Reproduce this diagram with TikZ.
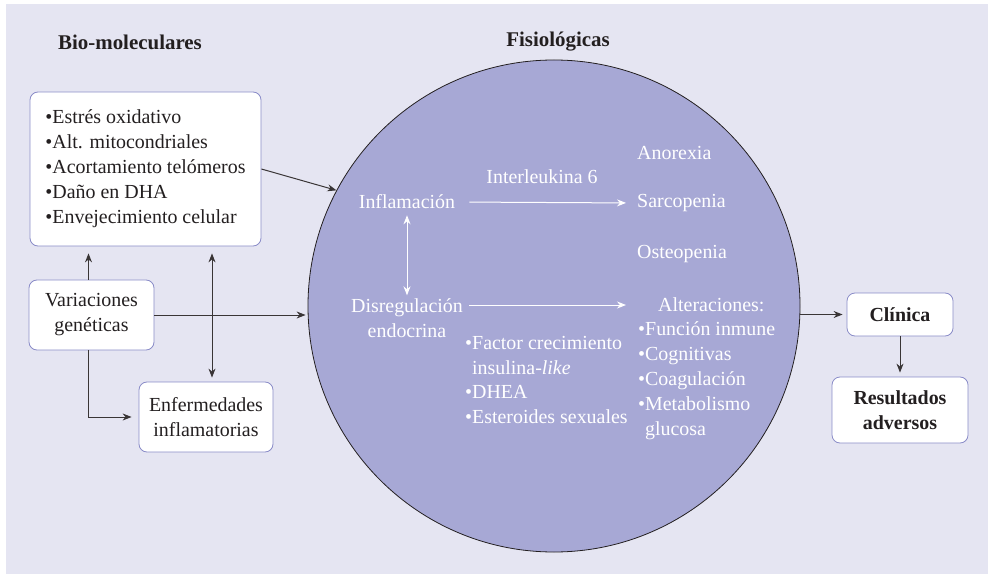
\documentclass[tikz,border=0pt]{standalone}
\usepackage{fontspec}
\setmainfont{Liberation Serif}
\usetikzlibrary{arrows.meta,positioning}
\definecolor{fondo}{HTML}{E5E5F2}
\definecolor{disco}{HTML}{A7A8D5}
\definecolor{borde}{HTML}{8A8CC8}
\definecolor{tinta}{HTML}{231F20}
\begin{document}
\begin{tikzpicture}[x=1bp,y=-1bp,>={Stealth[length=9bp,width=7bp]},
	caja/.style={draw=borde, fill=white, rounded corners=8bp, line width=0.8bp, inner sep=0pt, align=center, text=tinta, font=\fontsize{20}{25}\selectfont},
	blanco/.style={text=white, inner sep=0pt, font=\fontsize{20}{25}\selectfont},
	titulo/.style={text=tinta, inner sep=0pt, font=\bfseries\fontsize{21}{25}\selectfont},
	flecha/.style={->, draw=tinta!90, line width=1bp},
	flechab/.style={->, draw=white, line width=1bp}]
			\useasboundingbox (0,0) rectangle (988,574);
			\fill[fondo] (6,4) rectangle (988,574);
			% titulos
			\node[titulo] (tbio) at (130,42) {Bio-moleculares};
			\node[titulo] (tfisio) at (558,42) {Fisiológicas};
			% circulo
			\node[circle, draw=tinta, fill=disco, line width=0.8bp, minimum size=492bp, inner sep=0pt] (fisio) at (554,306) {};
			% cajas de la izquierda
			\node[caja, align=left, minimum width=231bp, minimum height=154bp] (bio) at (145.5,169) {\textbullet Estrés oxidativo\\\textbullet Alt. mitocondriales\\\textbullet Acortamiento telómeros\\\textbullet Daño en DHA\\\textbullet Envejecimiento celular};
			\node[caja, minimum width=125bp, minimum height=70bp] (varia) at (91.5,315) {Variaciones\\genéticas};
			\node[caja, minimum width=134bp, minimum height=70bp] (enf) at (206,417) {Enfermedades\\inflamatorias};
			% cajas de la derecha
			\node[caja, font=\bfseries\fontsize{20}{25}\selectfont, minimum width=106bp, minimum height=43bp] (clin) at (900,314.5) {Clínica};
			\node[caja, font=\bfseries\fontsize{20}{25}\selectfont, minimum width=136bp, minimum height=66bp] (res) at (900,410) {Resultados\\adversos};
			% dentro del circulo
			\node[blanco] (infl) at (407,202) {Inflamación};
			\node[blanco] (il6) at (542,177) {Interleukina 6};
			\node[blanco, anchor=west] (anor) at (637,153) {Anorexia};
			\node[blanco, anchor=west] (sarc) at (637,203) {Sarcopenia};
			\node[blanco, anchor=west] (osteo) at (637,254) {Osteopenia};
			\node[blanco, align=center] (disreg) at (407,318) {Disregulación\\endocrina};
			\node[blanco, align=left, anchor=west] (hormo) at (465,380) {\textbullet Factor crecimiento\\\phantom{\textbullet}insulina-\textit{like}\\\textbullet DHEA\\\textbullet Esteroides sexuales};
			\node[blanco, anchor=west] (alter) at (658,305) {Alteraciones:};
			\node[blanco, align=left, anchor=west] (altlist) at (638,381) {\textbullet Función inmune\\\textbullet Cognitivas\\\textbullet Coagulación\\\textbullet Metabolismo\\\phantom{\textbullet}glucosa};
			% flechas blancas
			\draw[flechab, shorten <=14bp, shorten >=11bp] (infl.east) -- (sarc.west);
			\draw[flechab, <->, shorten <=6bp, shorten >=3bp] (infl.south) -- (disreg.north);
			\draw[flechab, shorten <=6bp, shorten >=12bp] (disreg.east |- alter.west) -- (altlist.west |- alter.west);
			% flechas negras
			\draw[flecha] (bio.east) -- (fisio.152);
			\draw[flecha, shorten >=7bp] ([xshift=-3bp]varia.north) -- ([xshift=-3bp]varia.north |- bio.south);
			\draw[flecha, <->, shorten <=7bp, shorten >=4bp] ([xshift=6bp]enf.north |- bio.south) -- ([xshift=6bp]enf.north);
			\draw[flecha, shorten >=2bp] (varia.east) -- (varia.east -| fisio.west);
			\draw[flecha, shorten >=7bp] ([xshift=-3bp]varia.south) |- (enf.west);
			\draw[flecha, shorten >=4bp] (clin.west -| fisio.east) -- (clin.west);
			\draw[flecha, shorten >=4bp] (clin.south) -- (res.north);
		\end{tikzpicture}
\end{document}
